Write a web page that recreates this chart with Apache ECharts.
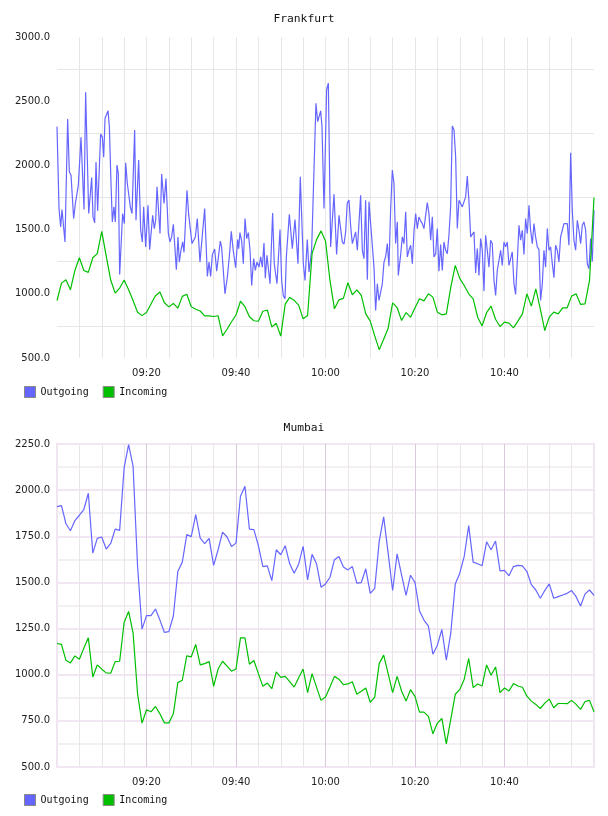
<!DOCTYPE html>
<html>
<head>
<meta charset="utf-8">
<script src="https://cdn.jsdelivr.net/npm/echarts@6/dist/echarts.min.js"></script>
<style>
  html, body { margin: 0; padding: 0; background: #fff; }
  #chart { width: 608px; height: 816px; }
</style>
</head>
<body>
<div id="chart"></div>
<script>
// seconds after 09:00 for Frankfurt outgoing samples (irregular, ~20s)
const frankfurtOutTime = [
  0, 27, 49, 67, 107, 143, 165, 188, 223, 246, 268, 286, 304, 322, 362, 384, 425, 442, 465, 483,
  505, 523, 545, 585, 608, 626, 644, 666, 684, 702, 724, 742, 764, 782, 804, 822, 840, 880, 903, 921,
  943, 983, 1006, 1041, 1059, 1095, 1122, 1144, 1162, 1189, 1220, 1242, 1265, 1283, 1305, 1323, 1341, 1381, 1403, 1435,
  1461, 1493, 1515, 1537, 1560, 1582, 1600, 1622, 1640, 1662, 1685, 1703, 1743, 1765, 1788, 1810, 1832, 1855, 1881, 1917,
  1940, 1980, 2016, 2038, 2060, 2083, 2114, 2141, 2163, 2190, 2208, 2252, 2284, 2310, 2337, 2360, 2378, 2395, 2422, 2436,
  2453, 2476, 2498, 2521, 2543, 2565, 2588, 2610, 2637, 2659, 2681, 2708, 2731, 2753, 2775, 2793, 2815, 2833, 2856, 2891,
  2913, 2949, 2990, 3012, 3034, 3057, 3075, 3115, 3155, 3191, 3231, 3262, 3303, 3325, 3356, 3379, 3414, 3472, 3495, 3517,
  3535, 3553, 3580, 3615, 3638, 3669, 3714, 3749, 3781, 3803, 3825, 3848, 3870, 3892, 3915, 3937, 3960, 3982, 4004, 4027,
  4049, 4071, 4094, 4116, 4138, 4161, 4183, 4205, 4250, 4272, 4295, 4317, 4339, 4362, 4384, 4406, 4429, 4451, 4473, 4496,
  4518, 4540, 4563, 4576, 4607, 4630, 4652, 4675, 4697, 4719, 4742, 4764, 4786, 4809, 4831, 4853, 4876, 4898, 4920, 4943,
  4965, 4987, 5010, 5032, 5054, 5077, 5099, 5121, 5144, 5166, 5188, 5211, 5233, 5255, 5278, 5300, 5323, 5345, 5367, 5390,
  5412, 5434, 5457, 5479, 5501, 5524, 5546, 5568, 5591, 5613, 5635, 5658, 5680, 5702, 5725, 5747, 5769, 5792, 5814, 5836,
  5859, 5881, 5903, 5926, 5948, 5970, 5993, 6015, 6037, 6060, 6082, 6104, 6127, 6149, 6172, 6194, 6216, 6239, 6261, 6283,
  6306, 6328, 6350, 6373, 6395, 6417, 6440, 6462, 6484, 6507, 6529, 6551, 6574, 6596, 6618, 6641, 6663, 6685, 6708, 6730,
  6752, 6775, 6797, 6819, 6842, 6864, 6887, 6909, 6931, 6954, 6976, 6998, 7021, 7043, 7065, 7088, 7110, 7132, 7155, 7177,
  7200
];
const frankfurtOut = [
  2302, 1664, 1521, 1656, 1404, 2362, 1950, 1924, 1586, 1703, 1703, 1846, 1846, 2219, 1656, 2570, 1625, 1625, 1906, 1599,
  1552, 2026, 1646, 2245, 2219, 2063, 2367, 2362, 2425, 2302, 1859, 1560, 1677, 1560, 2003, 1938, 1151, 1625, 1547, 2021,
  1859, 1677, 1625, 2276, 1573, 2042, 1495, 1404, 1677, 1365, 1690, 1344, 1352, 1612, 1508, 1573, 1833, 1469, 1932, 1703,
  1898, 1469, 1404, 1443, 1542, 1352, 1187, 1443, 1247, 1339, 1404, 1323, 1807, 1620, 1620, 1391, 1396, 1443, 1586, 1247,
  1245, 1664, 1136, 1247, 1136, 1305, 1349, 1177, 1169, 1411, 1359, 1000, 1130, 1287, 1487, 1352, 1352, 1203, 1422, 1352,
  1477, 1411, 1234, 1586, 1430, 1477, 1339, 1065, 1274, 1182, 1247, 1208, 1287, 1208, 1396, 1122, 1300, 1287, 1078, 1630,
  1234, 1078, 1500, 1104, 987, 961, 1287, 1620, 1352, 1578, 1234, 1911, 1234, 1104, 1422, 1170, 1339, 2484, 2341, 2341,
  2425, 2302, 1664, 2589, 2641, 1365, 1776, 1307, 1612, 1599, 1404, 1386, 1482, 1708, 1729, 1529, 1391, 1378, 1482, 1339,
  1326, 1768, 1339, 1274, 1729, 1110, 1716, 1716, 1208, 870, 1078, 948, 953, 1078, 1247, 1287, 1391, 1214, 1651, 1964,
  1859, 1391, 1560, 1143, 1300, 1443, 1391, 1638, 1287, 1339, 1378, 1234, 1482, 1625, 1508, 1599, 1568, 1547, 1508, 1521,
  1711, 1625, 1417, 1599, 1287, 1313, 1508, 1175, 1383, 1182, 1404, 1339, 1313, 1456, 1677, 2307, 2276, 2068, 1508, 1729,
  1742, 1677, 1690, 1755, 1917, 1716, 1443, 1443, 1482, 1162, 1352, 1143, 1430, 1339, 1021, 1456, 1339, 1208, 1417, 1391,
  1104, 987, 1182, 1261, 1339, 1221, 1404, 1365, 1404, 1221, 1274, 1326, 1078, 995, 1261, 1534, 1417, 1495, 1307, 1586,
  1469, 1690, 1495, 1391, 1547, 1443, 1365, 1344, 948, 1078, 1339, 1208, 1508, 1339, 1365, 1234, 1125, 1378, 1339, 1247,
  1443, 1495, 1547, 1542, 1547, 1378, 2099, 1651, 1417, 1339, 1573, 1495, 1391, 1534, 1560, 1495, 1234, 1195, 1430, 1251,
  1650
];
// one sample per minute from 09:00 to 11:00
const frankfurtIn = [
  948, 1083, 1109, 1031, 1182, 1281, 1182, 1167, 1281, 1313, 1487, 1294, 1107, 1005, 1045, 1107, 1031, 948, 856, 830,
  854, 920, 985, 1014, 930, 898, 925, 888, 980, 997, 899, 880, 866, 828, 828, 823, 829, 672, 724, 782,
  835, 942, 900, 821, 790, 786, 864, 874, 742, 770, 670, 920, 972, 949, 912, 805, 831, 1313, 1422, 1490,
  1412, 1104, 883, 953, 964, 1086, 992, 1031, 987, 844, 787, 672, 565, 646, 732, 930, 893, 792, 854, 818,
  891, 961, 945, 1000, 974, 857, 836, 844, 1052, 1221, 1120, 1065, 1000, 961, 818, 750, 854, 904, 802, 745,
  779, 771, 735, 787, 844, 1000, 904, 1039, 883, 714, 818, 857, 844, 891, 891, 982, 1000, 917, 922, 1104,
  1750
];
const mumbaiOut = [
  1911, 1916, 1818, 1780, 1835, 1864, 1895, 1983, 1659, 1739, 1746, 1681, 1711, 1789, 1782, 2121, 2246, 2130, 1590, 1247,
  1320, 1320, 1356, 1296, 1229, 1233, 1318, 1559, 1610, 1759, 1748, 1867, 1740, 1710, 1739, 1592, 1677, 1773, 1746, 1695,
  1713, 1967, 2021, 1789, 1786, 1699, 1586, 1590, 1510, 1677, 1650, 1699, 1601, 1550, 1599, 1695, 1514, 1652, 1601, 1474,
  1492, 1528, 1623, 1641, 1584, 1568, 1586, 1496, 1499, 1574, 1441, 1468, 1722, 1855, 1659, 1456, 1655, 1541, 1430, 1539,
  1499, 1347, 1296, 1263, 1111, 1160, 1245, 1079, 1227, 1492, 1550, 1641, 1808, 1610, 1601, 1590, 1720, 1677, 1724, 1563,
  1565, 1536, 1586, 1592, 1590, 1559, 1488, 1459, 1414, 1456, 1492, 1414, 1423, 1432, 1441, 1456, 1423, 1372, 1438, 1459,
  1430
];
const mumbaiIn = [
  1169, 1164, 1078, 1064, 1102, 1084, 1144, 1200, 988, 1053, 1030, 1010, 1008, 1071, 1073, 1283, 1343, 1227, 897, 738,
  810, 799, 828, 788, 739, 739, 788, 957, 970, 1102, 1097, 1164, 1053, 1060, 1071, 937, 1031, 1073, 1046, 1019,
  1031, 1200, 1200, 1057, 1077, 1006, 937, 955, 924, 1015, 986, 991, 962, 933, 984, 1031, 903, 1006, 933, 861,
  879, 933, 991, 976, 946, 950, 962, 894, 910, 928, 850, 879, 1060, 1106, 1006, 903, 991, 912, 857, 919,
  883, 797, 797, 774, 680, 738, 763, 625, 759, 894, 919, 976, 1088, 930, 950, 939, 1053, 997, 1042, 903,
  928, 912, 952, 939, 932, 884, 857, 839, 817, 846, 868, 821, 844, 844, 843, 861, 839, 812, 855, 861,
  799
];
const seriesNames = ["Outgoing", "Incoming"];
const cityNames = ["Frankfurt", "Mumbai"];
const outColor = "#6666ff";
const inColor = "#00bf00";

const chart = echarts.init(document.getElementById("chart"), null, { renderer: "canvas" });

const clock = (sec) => {
  const h = 9 + Math.floor(sec / 3600);
  const m = Math.floor((sec % 3600) / 60);
  return String(h).padStart(2, "0") + ":" + String(m).padStart(2, "0");
};
const perMinute = (arr) => arr.map((v, i) => [i * 60, v]);

const labelFont = { fontFamily: "DejaVu Sans", fontSize: 10, color: "#222" };
const monoFont = { fontFamily: "DejaVu Sans Mono", color: "#111" };

const xAxisBase = (grid, major, minor) => ({
  type: "value",
  gridIndex: grid,
  min: 0,
  max: 7200,
  interval: 1200,
  axisLine: { show: false },
  axisTick: { show: false },
  minorTick: { show: false, splitNumber: 4 },
  axisLabel: {
    ...labelFont,
    margin: 10,
    showMinLabel: false,
    showMaxLabel: false,
    formatter: (v) => clock(v),
  },
  splitLine: { show: true, showMinLine: false, showMaxLine: false, lineStyle: major },
  minorSplitLine: { show: true, lineStyle: minor },
});

chart.setOption({
  animation: false,
  backgroundColor: "#fff",
  title: [
    { text: cityNames[0], left: "center", top: 14, padding: 0,
      textStyle: { ...monoFont, fontSize: 11.3, fontWeight: "normal" } },
    { text: cityNames[1], left: "center", top: 423, padding: 0,
      textStyle: { ...monoFont, fontSize: 11.3, fontWeight: "normal" } },
  ],
  legend: [
    { data: seriesNames, left: 24, top: 386, padding: 0, itemGap: 14, itemWidth: 11, itemHeight: 11,
      icon: "rect", itemStyle: { borderColor: "#888", borderWidth: 1 },
      textStyle: { ...monoFont, fontSize: 10 } },
    { data: seriesNames, left: 24, top: 794, padding: 0, itemGap: 14, itemWidth: 11, itemHeight: 11,
      icon: "rect", itemStyle: { borderColor: "#888", borderWidth: 1 },
      textStyle: { ...monoFont, fontSize: 10 } },
  ],
  grid: [
    { left: 57, right: 14, top: 37, height: 321 },
    { left: 57, right: 14, top: 444, height: 323, show: true, borderColor: "#f0e4f0", borderWidth: 2 },
  ],
  xAxis: [
    xAxisBase(0, { color: "#e6e6e6", width: 1 }, { color: "#e6e6e6", width: 1 }),
    xAxisBase(1, { color: "#dcc8dc", width: 1 }, { color: "#ebe4eb", width: 1 }),
  ],
  yAxis: [
    {
      type: "value", gridIndex: 0, min: 500, max: 3000, interval: 500,
      axisLine: { show: false }, axisTick: { show: false },
      minorTick: { show: false, splitNumber: 2 },
      axisLabel: { ...labelFont, margin: 7, formatter: (v) => v.toFixed(1) },
      splitLine: { show: false },
      minorSplitLine: { show: true, lineStyle: { color: "#e6e6e6", width: 1 } },
    },
    {
      type: "value", gridIndex: 1, min: 500, max: 2250, interval: 250,
      axisLine: { show: false }, axisTick: { show: false },
      minorTick: { show: false, splitNumber: 2 },
      axisLabel: { ...labelFont, margin: 7, formatter: (v) => v.toFixed(1) },
      splitLine: { show: true, lineStyle: { color: "#f2e6f2", width: 2 } },
      minorSplitLine: { show: true, lineStyle: { color: "#f3f0f3", width: 2 } },
    },
  ],
  series: [
    { name: seriesNames[0], type: "line", xAxisIndex: 0, yAxisIndex: 0, symbol: "none",
      color: outColor, lineStyle: { width: 1.2 },
      data: frankfurtOutTime.map((t, i) => [t, frankfurtOut[i]]) },
    { name: seriesNames[1], type: "line", xAxisIndex: 0, yAxisIndex: 0, symbol: "none",
      color: inColor, lineStyle: { width: 1.2 }, data: perMinute(frankfurtIn) },
    { name: seriesNames[0], type: "line", xAxisIndex: 1, yAxisIndex: 1, symbol: "none",
      color: outColor, lineStyle: { width: 1.2 }, data: perMinute(mumbaiOut) },
    { name: seriesNames[1], type: "line", xAxisIndex: 1, yAxisIndex: 1, symbol: "none",
      color: inColor, lineStyle: { width: 1.2 }, data: perMinute(mumbaiIn) },
  ],
});
</script>
</body>
</html>
